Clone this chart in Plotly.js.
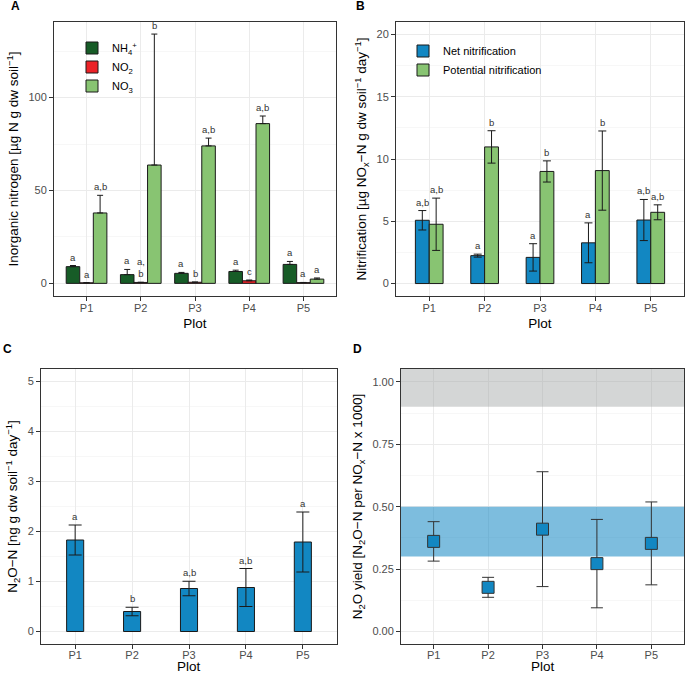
<!DOCTYPE html>
<html><head><meta charset="utf-8">
<script src="https://cdn.plot.ly/plotly-3.0.1.min.js"></script>
<style>html,body{margin:0;padding:0;background:#fff}#chart{width:685px;height:674px}</style>
</head><body><div id="chart"></div><script>
// ---------- data ----------
const plots = ['P1', 'P2', 'P3', 'P4', 'P5'];

// Panel A: inorganic nitrogen
const nh4 = [9.0, 4.7, 5.4, 6.4, 10.2];
const nh4Sd = [0.6, 2.8, 0.5, 0.7, 1.6];
const no2 = [0.3, 0.5, 0.6, 1.4, 0.4];
const no2Sd = [0.1, 0.1, 0.1, 0.4, 0.1];
const no3 = [37.9, 63.7, 74.0, 86.0, 2.3];
const no3Sd = [9.5, 70.5, 4.2, 4.1, 0.6];
const nh4Lab = ['a', 'a', 'a', 'a', 'a'];
const no2Lab = ['a', 'a,<br>b', 'b', 'c', 'a'];
const no3Lab = ['a,b', 'b', 'a,b', 'a,b', 'a'];

// Panel B: nitrification
const netNit = [5.08, 2.24, 2.1, 3.27, 5.1];
const netNitSd = [0.78, 0.12, 1.1, 1.6, 1.65];
const potNit = [4.76, 10.97, 9.0, 9.07, 5.72];
const potNitSd = [2.1, 1.3, 0.85, 3.18, 0.6];
const netLab = ['a,b', 'a', 'a', 'a', 'a,b'];
const potLab = ['a,b', 'b', 'b', 'b', 'a,b'];

// Panel C: N2O-N
const n2o = [1.83, 0.40, 0.86, 0.88, 1.79];
const n2oSd = [0.30, 0.085, 0.145, 0.38, 0.60];
const n2oLab = ['a', 'b', 'a,b', 'a,b', 'a'];

// Panel D: N2O yield
const yieldV = [0.361, 0.177, 0.410, 0.272, 0.353];
const yieldSd = [0.079, 0.040, 0.230, 0.177, 0.166];
const greyBand = [0.9, 1.0515];
const blueBand = [0.3, 0.5];

// ---------- style ----------
const W = 685, H = 674;
const FONT = 'Liberation Sans, Arial, sans-serif';
const cNH4 = '#175c27', cNO2 = '#ec2227', cNO3 = '#88c472', cNet = '#1287c2';
const edge = '#1a1a1a';
const xRange = [-0.6, 4.6];
const px = v => v / W, py = v => 1 - v / H;

function xAx(x0, x1, anchor, withTitle, lblOff) {
  return {
    domain: [px(x0), px(x1)], anchor: anchor, type: 'category', range: xRange,
    showline: true, mirror: true, linecolor: '#333', linewidth: 1,
    ticks: 'outside', ticklen: 4, tickcolor: '#333', tickwidth: 1,
    ticklabelstandoff: lblOff,
    tickfont: {size: 11, color: '#4d4d4d'},
    showgrid: true, gridcolor: '#ebebeb', gridwidth: 1, zeroline: false,
    automargin: false, fixedrange: true,
    title: {text: withTitle ? 'Plot' : '', font: {size: 13.5, color: '#000'}, standoff: 5}
  };
}
function yAx(y0, y1, anchor, range, dtick, minor, title, fmt) {
  return {
    domain: [py(y1), py(y0)], anchor: anchor, range: range,
    tickmode: 'linear', tick0: 0, dtick: dtick, tickformat: fmt || '',
    showline: true, mirror: true, linecolor: '#333', linewidth: 1,
    ticks: 'outside', ticklen: 4, tickcolor: '#333', tickwidth: 1,
    tickfont: {size: 11, color: '#4d4d4d'},
    showgrid: true, gridcolor: '#ebebeb', gridwidth: 1, zeroline: false,
    minor: {tick0: 0, dtick: minor, showgrid: true, gridcolor: '#f2f2f2', gridwidth: 0.6, ticks: ''},
    automargin: false, fixedrange: true,
    title: {text: title, font: {size: 13.5, color: '#000'}, standoff: 6}
  };
}
const zeros = plots.map(() => 0);
function barErr(arr, minus, w) {
  return {type: 'data', array: arr, arrayminus: minus, symmetric: false,
          color: edge, thickness: 1, width: w};
}

const traces = [
  // A
  {type: 'bar', x: plots, y: nh4, name: 'NH<sub>4</sub><sup>+</sup>', width: 0.25, offset: -0.375,
   marker: {color: cNH4, line: {color: edge, width: 1}}, error_y: barErr(nh4Sd, zeros, 3),
   xaxis: 'x', yaxis: 'y', legend: 'legend'},
  {type: 'bar', x: plots, y: no2, name: 'NO<sub>2</sub>', width: 0.25, offset: -0.125,
   marker: {color: cNO2, line: {color: edge, width: 1}}, error_y: barErr(no2Sd, zeros, 3),
   xaxis: 'x', yaxis: 'y', legend: 'legend'},
  {type: 'bar', x: plots, y: no3, name: 'NO<sub>3</sub>', width: 0.25, offset: 0.125,
   marker: {color: cNO3, line: {color: edge, width: 1}}, error_y: barErr(no3Sd, zeros, 3),
   xaxis: 'x', yaxis: 'y', legend: 'legend'},
  // B
  {type: 'bar', x: plots, y: netNit, name: 'Net nitrification', width: 0.25, offset: -0.25,
   marker: {color: cNet, line: {color: edge, width: 1}}, error_y: barErr(netNitSd, netNitSd, 4),
   xaxis: 'x2', yaxis: 'y2', legend: 'legend2'},
  {type: 'bar', x: plots, y: potNit, name: 'Potential nitrification', width: 0.25, offset: 0,
   marker: {color: cNO3, line: {color: edge, width: 1}}, error_y: barErr(potNitSd, potNitSd, 4),
   xaxis: 'x2', yaxis: 'y2', legend: 'legend2'},
  // C
  {type: 'bar', x: plots, y: n2o, name: 'N2O', width: 0.3, offset: -0.15, showlegend: false,
   marker: {color: cNet, line: {color: edge, width: 1}}, error_y: barErr(n2oSd, n2oSd, 6.5),
   xaxis: 'x3', yaxis: 'y3'},
  // D
  {type: 'scatter', mode: 'markers', x: plots, y: yieldV, name: 'yield', showlegend: false,
   marker: {symbol: 'square', size: 12, color: cNet, line: {color: '#333', width: 1}},
   error_y: {type: 'data', array: yieldSd, symmetric: true, color: '#333', thickness: 1, width: 6},
   xaxis: 'x4', yaxis: 'y4'}
];

// letter annotations
const ann = [];
function addLabels(labels, vals, sds, offs, xr, yr) {
  labels.forEach((t, i) => {
    ann.push({xref: xr, yref: yr, x: i + offs, y: vals[i] + sds[i], text: t,
      showarrow: false, yanchor: 'bottom', xanchor: 'center', yshift: 1,
      font: {size: 9.5, color: '#333', family: FONT}});
  });
}
addLabels(nh4Lab, nh4, nh4Sd, -0.25, 'x', 'y');
addLabels(no2Lab, no2, no2Sd, 0, 'x', 'y');
addLabels(no3Lab, no3, no3Sd, 0.25, 'x', 'y');
addLabels(netLab, netNit, netNitSd, -0.125, 'x2', 'y2');
addLabels(potLab, potNit, potNitSd, 0.125, 'x2', 'y2');
addLabels(n2oLab, n2o, n2oSd, 0, 'x3', 'y3');

// x titles of the lower panels (placed as text, near the page bottom)
[[41, 337], [401, 684]].forEach(d => {
  ann.push({xref: 'paper', yref: 'paper', x: px((d[0] + d[1]) / 2), y: py(666), text: 'Plot',
    showarrow: false, xanchor: 'center', yanchor: 'middle', borderpad: 0,
    font: {size: 13.5, color: '#000', family: FONT}});
});

// panel letters
[['A', 15, 6], ['B', 361, 6], ['C', 8, 349], ['D', 357, 349]].forEach(p => {
  ann.push({xref: 'paper', yref: 'paper', x: px(p[1]), y: py(p[2]), text: '<b>' + p[0] + '</b>',
    showarrow: false, xanchor: 'center', yanchor: 'middle', font: {size: 12, color: '#000', family: FONT}});
});

const layout = {
  width: W, height: H, margin: {l: 0, r: 0, t: 0, b: 0},
  paper_bgcolor: '#fff', plot_bgcolor: '#fff',
  font: {family: FONT, color: '#000'},
  barmode: 'overlay',
  xaxis: xAx(54, 336, 'y', true, -2),
  yaxis: yAx(22, 296, 'x', [-6.8, 140.7], 50, 25, 'Inorganic nitrogen [µg N g dw soil<sup>−1</sup>]'),
  xaxis2: xAx(396, 684, 'y2', true, -2),
  yaxis2: yAx(22, 296, 'x2', [-1, 21], 5, 2.5, 'Nitrification [µg NO<sub>x</sub>−N g dw soil<sup>−1</sup> day<sup>−1</sup>]'),
  xaxis3: xAx(41, 337, 'y3', false, -3),
  yaxis3: yAx(369, 644, 'x3', [-0.25, 5.25], 1, 0.5, 'N<sub>2</sub>O−N [ng g dw soil<sup>−1</sup> day<sup>−1</sup>]'),
  xaxis4: xAx(401, 684, 'y4', false, -3),
  yaxis4: yAx(369, 644, 'x4', [-0.05, 1.0515], 0.25, 0.125, 'N<sub>2</sub>O yield [N<sub>2</sub>O−N per NO<sub>x</sub>−N x 1000]', '.2f'),
  legend: {x: px(72), y: py(33.5), xanchor: 'left', yanchor: 'top', bgcolor: 'rgba(0,0,0,0)',
           font: {size: 11, color: '#000'}, itemwidth: 30, tracegroupgap: 0, traceorder: 'normal'},
  legend2: {x: px(403), y: py(36.5), xanchor: 'left', yanchor: 'top', bgcolor: 'rgba(0,0,0,0)',
           font: {size: 11, color: '#000'}, itemwidth: 30, tracegroupgap: 0, traceorder: 'normal'},
  shapes: [
    {type: 'rect', xref: 'x4', yref: 'y4', x0: xRange[0], x1: xRange[1], y0: greyBand[0], y1: greyBand[1],
     fillcolor: 'rgba(160,165,165,0.45)', line: {width: 0}, layer: 'between'},
    {type: 'rect', xref: 'x4', yref: 'y4', x0: xRange[0], x1: xRange[1], y0: blueBand[0], y1: blueBand[1],
     fillcolor: 'rgba(18,135,194,0.55)', line: {width: 0}, layer: 'between'}
  ],
  annotations: ann
};

Plotly.newPlot('chart', traces, layout, {staticPlot: true, displayModeBar: false});
</script></body></html>
